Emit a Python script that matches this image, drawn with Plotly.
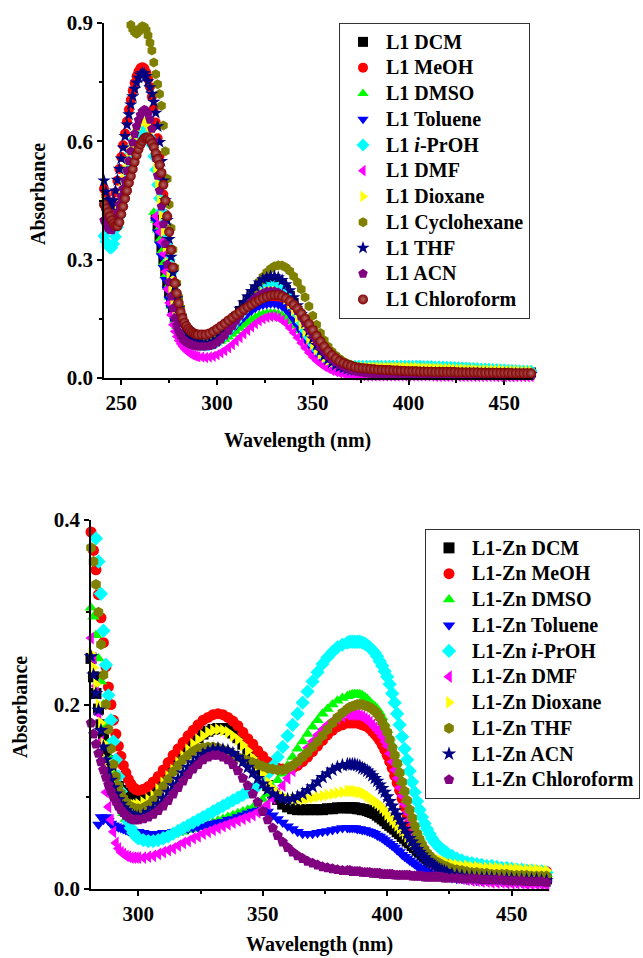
import plotly.graph_objects as go

# ---------------- L1 (free ligand) spectra ----------------
wl_l1 = list(range(241, 291)) + list(range(292, 465, 2))

l1_dcm = [0.41, 0.385, 0.36, 0.33, 0.30, 0.27, 0.24, 0.215, 0.19, 0.17,
          0.152, 0.138, 0.126, 0.116, 0.108, 0.102, 0.097, 0.094, 0.091, 0.089,
          0.088, 0.087, 0.086] + \
         [0.085, 0.085, 0.087, 0.091, 0.097, 0.105, 0.115, 0.127, 0.14, 0.155,
          0.17, 0.185, 0.199, 0.212, 0.223, 0.232, 0.238, 0.242, 0.244, 0.244,
          0.241, 0.234, 0.223, 0.208, 0.19, 0.17, 0.148, 0.127, 0.107, 0.089,
          0.073, 0.06, 0.05, 0.042, 0.036, 0.031, 0.027, 0.025, 0.023, 0.022,
          0.021, 0.021, 0.02, 0.02, 0.02] + \
         [0.02, 0.02, 0.02, 0.02, 0.02, 0.02, 0.02, 0.019, 0.019, 0.019,
          0.019, 0.019, 0.019, 0.018, 0.018, 0.018, 0.018, 0.018, 0.018, 0.017,
          0.017, 0.017, 0.017, 0.017, 0.017, 0.016, 0.016, 0.016, 0.016, 0.016,
          0.016, 0.015, 0.015, 0.015, 0.015, 0.015, 0.015, 0.014, 0.014, 0.014,
          0.014, 0.014]

l1_meoh = [0.48, 0.462, 0.447, 0.436, 0.432, 0.445, 0.47, 0.5, 0.53, 0.56,
           0.59, 0.62, 0.65, 0.68, 0.705, 0.728, 0.748, 0.765, 0.777, 0.785,
           0.788, 0.785, 0.775, 0.758, 0.738, 0.713, 0.683, 0.648, 0.608, 0.563,
           0.515, 0.465, 0.415, 0.365, 0.32, 0.28, 0.245, 0.215, 0.19, 0.168,
           0.15, 0.136, 0.125, 0.116, 0.109, 0.104, 0.1, 0.097, 0.095, 0.093] + \
          [0.09, 0.089, 0.09, 0.093, 0.098, 0.104, 0.112, 0.121, 0.131, 0.142,
           0.153, 0.164, 0.174, 0.183, 0.191, 0.197, 0.201, 0.204, 0.205, 0.205,
           0.202, 0.196, 0.187, 0.175, 0.16, 0.143, 0.125, 0.107, 0.09, 0.075,
           0.062, 0.051, 0.042, 0.035, 0.03, 0.026, 0.023, 0.021, 0.019, 0.018,
           0.017, 0.017, 0.016, 0.016, 0.016] + \
          [0.016, 0.016, 0.016, 0.016, 0.016, 0.016, 0.015, 0.015, 0.015, 0.015,
           0.015, 0.015, 0.014, 0.014, 0.014, 0.014, 0.014, 0.014, 0.014, 0.013,
           0.013, 0.013, 0.013, 0.013, 0.013, 0.013, 0.012, 0.012, 0.012, 0.012,
           0.012, 0.012, 0.012, 0.012, 0.011, 0.011, 0.011, 0.011, 0.011, 0.011,
           0.011, 0.011]

l1_dmso = [0.42, 0.40, 0.375, 0.35, 0.32, 0.29, 0.26, 0.23, 0.205, 0.182,
           0.162, 0.145, 0.131, 0.12, 0.111, 0.104, 0.098, 0.094, 0.091, 0.089,
           0.087, 0.086, 0.085, 0.085] + \
          [0.084, 0.083, 0.084, 0.086, 0.089, 0.093, 0.098, 0.104, 0.111, 0.118,
           0.126, 0.134, 0.141, 0.148, 0.154, 0.159, 0.162, 0.164, 0.165, 0.165,
           0.163, 0.159, 0.152, 0.143, 0.132, 0.12, 0.107, 0.095, 0.083, 0.073,
           0.064, 0.057, 0.051, 0.046, 0.042, 0.039, 0.037, 0.035, 0.034, 0.034,
           0.033, 0.033, 0.033, 0.033, 0.033] + \
          [0.033, 0.033, 0.033, 0.033, 0.033, 0.033, 0.033, 0.033, 0.033, 0.033,
           0.033, 0.033, 0.033, 0.032, 0.032, 0.032, 0.031, 0.031, 0.031, 0.03,
           0.03, 0.03, 0.029, 0.029, 0.028, 0.028, 0.027, 0.027, 0.026, 0.026,
           0.025, 0.025, 0.024, 0.024, 0.023, 0.023, 0.022, 0.022, 0.021, 0.021,
           0.02, 0.02]

l1_toluene = [0.40, 0.37, 0.34, 0.31, 0.28, 0.25, 0.225, 0.2, 0.178, 0.16,
              0.145, 0.132, 0.12, 0.112, 0.105, 0.1, 0.096, 0.093, 0.09, 0.088,
              0.087, 0.086, 0.085] + \
             [0.086, 0.085, 0.086, 0.089, 0.093, 0.099, 0.106, 0.114, 0.123, 0.133,
              0.143, 0.153, 0.162, 0.17, 0.177, 0.182, 0.185, 0.187, 0.188, 0.188,
              0.186, 0.181, 0.173, 0.162, 0.148, 0.133, 0.117, 0.101, 0.086, 0.072,
              0.06, 0.05, 0.042, 0.036, 0.031, 0.027, 0.025, 0.023, 0.022, 0.021,
              0.021, 0.02, 0.02, 0.02, 0.02] + \
             [0.02, 0.02, 0.02, 0.02, 0.02, 0.02, 0.02, 0.019, 0.019, 0.019,
              0.019, 0.019, 0.019, 0.018, 0.018, 0.018, 0.018, 0.018, 0.018, 0.017,
              0.017, 0.017, 0.017, 0.017, 0.017, 0.016, 0.016, 0.016, 0.016, 0.016,
              0.016, 0.015, 0.015, 0.015, 0.015, 0.015, 0.015, 0.014, 0.014, 0.014,
              0.014, 0.014]

l1_iproh = [0.36, 0.346, 0.336, 0.33, 0.33, 0.34, 0.358, 0.382, 0.409, 0.438,
            0.468, 0.497, 0.523, 0.548, 0.57, 0.589, 0.606, 0.619, 0.629, 0.636,
            0.64, 0.64, 0.635, 0.625, 0.61, 0.59, 0.562, 0.528, 0.49, 0.455,
            0.423, 0.395, 0.368, 0.335, 0.3, 0.265, 0.232, 0.203, 0.178, 0.158,
            0.141, 0.128, 0.117, 0.108, 0.101, 0.096, 0.092, 0.089, 0.087, 0.085] + \
           [0.084, 0.083, 0.084, 0.087, 0.092, 0.099, 0.108, 0.119, 0.131, 0.144,
            0.158, 0.172, 0.185, 0.197, 0.208, 0.217, 0.224, 0.229, 0.232, 0.232,
            0.229, 0.222, 0.211, 0.197, 0.18, 0.161, 0.141, 0.121, 0.103, 0.087,
            0.073, 0.062, 0.053, 0.046, 0.041, 0.037, 0.034, 0.032, 0.031, 0.03,
            0.03, 0.03, 0.03, 0.03, 0.03] + \
           [0.03, 0.03, 0.03, 0.03, 0.03, 0.03, 0.03, 0.03, 0.03, 0.03,
            0.03, 0.03, 0.03, 0.029, 0.029, 0.029, 0.028, 0.028, 0.028, 0.027,
            0.027, 0.026, 0.026, 0.025, 0.025, 0.024, 0.024, 0.023, 0.023, 0.022,
            0.022, 0.021, 0.021, 0.02, 0.02, 0.019, 0.019, 0.018, 0.018, 0.017,
            0.017, 0.017]

l1_dmf = [0.41, 0.39, 0.37, 0.345, 0.315, 0.27, 0.225, 0.19, 0.16, 0.135,
          0.118, 0.105, 0.095, 0.087, 0.08, 0.074, 0.069, 0.065, 0.062, 0.059,
          0.057, 0.055, 0.054] + \
         [0.053, 0.052, 0.053, 0.055, 0.059, 0.064, 0.07, 0.077, 0.085, 0.094,
          0.103, 0.112, 0.121, 0.13, 0.138, 0.145, 0.15, 0.154, 0.156, 0.156,
          0.153, 0.147, 0.138, 0.127, 0.115, 0.102, 0.089, 0.076, 0.064, 0.053,
          0.044, 0.036, 0.029, 0.024, 0.019, 0.016, 0.013, 0.011, 0.009, 0.008,
          0.007, 0.006, 0.006, 0.005, 0.005] + \
         [0.005, 0.005, 0.005, 0.005, 0.005, 0.005, 0.005, 0.005, 0.005, 0.005,
          0.005, 0.005, 0.005, 0.005, 0.005, 0.005, 0.004, 0.004, 0.004, 0.004,
          0.004, 0.004, 0.004, 0.004, 0.004, 0.004, 0.004, 0.004, 0.004, 0.004,
          0.004, 0.004, 0.003, 0.003, 0.003, 0.003, 0.003, 0.003, 0.003, 0.003,
          0.003, 0.003]

l1_dioxane = [0.45, 0.432, 0.417, 0.406, 0.4, 0.405, 0.42, 0.44, 0.46, 0.481,
              0.504, 0.527, 0.549, 0.57, 0.589, 0.605, 0.619, 0.631, 0.641, 0.648,
              0.652, 0.652, 0.648, 0.639, 0.624, 0.6, 0.57, 0.532, 0.492, 0.452,
              0.412, 0.372, 0.332, 0.293, 0.257, 0.226, 0.199, 0.176, 0.157, 0.141,
              0.128, 0.118, 0.11, 0.104, 0.099, 0.096, 0.093, 0.091, 0.089, 0.088] + \
             [0.087, 0.086, 0.087, 0.09, 0.095, 0.102, 0.11, 0.12, 0.131, 0.143,
              0.155, 0.167, 0.179, 0.19, 0.2, 0.208, 0.214, 0.218, 0.22, 0.22,
              0.217, 0.21, 0.2, 0.187, 0.171, 0.153, 0.135, 0.117, 0.1, 0.085,
              0.072, 0.061, 0.052, 0.045, 0.04, 0.036, 0.033, 0.031, 0.03, 0.029,
              0.029, 0.028, 0.028, 0.028, 0.028] + \
             [0.028, 0.028, 0.028, 0.028, 0.028, 0.028, 0.028, 0.028, 0.027, 0.027,
              0.027, 0.027, 0.026, 0.026, 0.026, 0.025, 0.025, 0.025, 0.024, 0.024,
              0.024, 0.023, 0.023, 0.023, 0.022, 0.022, 0.022, 0.021, 0.021, 0.021,
              0.02, 0.02, 0.02, 0.02, 0.019, 0.019, 0.019, 0.019, 0.018, 0.018,
              0.018, 0.018]

l1_cyclohexane = [0.895, 0.885, 0.877, 0.873, 0.878, 0.887, 0.892, 0.89, 0.882, 0.868,
                  0.85, 0.83, 0.8, 0.77, 0.745, 0.72, 0.69, 0.64, 0.575, 0.505,
                  0.44, 0.38, 0.325, 0.28, 0.24, 0.205, 0.178, 0.158, 0.142, 0.13,
                  0.12, 0.113, 0.108, 0.104, 0.101, 0.099] + \
                 [0.098, 0.098, 0.099, 0.101, 0.105, 0.11, 0.117, 0.126, 0.137, 0.15,
                  0.165, 0.181, 0.197, 0.213, 0.229, 0.244, 0.257, 0.268, 0.277, 0.283,
                  0.286, 0.285, 0.28, 0.271, 0.258, 0.243, 0.225, 0.205, 0.182, 0.158,
                  0.135, 0.114, 0.096, 0.08, 0.067, 0.057, 0.049, 0.042, 0.037, 0.033,
                  0.03, 0.027, 0.025, 0.023, 0.022] + \
                 [0.021, 0.021, 0.02, 0.02, 0.019, 0.019, 0.018, 0.018, 0.018, 0.018,
                  0.017, 0.017, 0.017, 0.017, 0.016, 0.016, 0.016, 0.016, 0.015, 0.015,
                  0.015, 0.015, 0.015, 0.015, 0.014, 0.014, 0.014, 0.014, 0.014, 0.014,
                  0.013, 0.013, 0.013, 0.013, 0.013, 0.013, 0.012, 0.012, 0.012, 0.012,
                  0.012, 0.012]

l1_thf = [0.50, 0.472, 0.452, 0.44, 0.436, 0.45, 0.475, 0.502, 0.53, 0.556,
          0.584, 0.613, 0.642, 0.668, 0.693, 0.714, 0.733, 0.749, 0.761, 0.769,
          0.773, 0.772, 0.765, 0.752, 0.737, 0.72, 0.7, 0.672, 0.638, 0.598,
          0.55, 0.5, 0.45, 0.4, 0.352, 0.307, 0.267, 0.232, 0.202, 0.177,
          0.157, 0.141, 0.128, 0.118, 0.11, 0.104, 0.099, 0.095, 0.092, 0.09] + \
         [0.088, 0.087, 0.088, 0.092, 0.098, 0.106, 0.117, 0.13, 0.144, 0.159,
          0.175, 0.191, 0.206, 0.22, 0.232, 0.242, 0.25, 0.255, 0.258, 0.258,
          0.255, 0.248, 0.237, 0.222, 0.204, 0.184, 0.162, 0.14, 0.119, 0.1,
          0.083, 0.069, 0.057, 0.047, 0.039, 0.033, 0.028, 0.025, 0.022, 0.02,
          0.019, 0.018, 0.017, 0.017, 0.016] + \
         [0.016, 0.016, 0.016, 0.015, 0.015, 0.015, 0.015, 0.015, 0.014, 0.014,
          0.014, 0.014, 0.014, 0.014, 0.013, 0.013, 0.013, 0.013, 0.013, 0.013,
          0.013, 0.013, 0.012, 0.012, 0.012, 0.012, 0.012, 0.012, 0.012, 0.012,
          0.011, 0.011, 0.011, 0.011, 0.011, 0.011, 0.011, 0.011, 0.01, 0.01,
          0.01, 0.01]

l1_acn = [0.40, 0.39, 0.381, 0.376, 0.375, 0.385, 0.40, 0.42, 0.44, 0.46,
          0.48, 0.5, 0.525, 0.55, 0.575, 0.597, 0.619, 0.638, 0.654, 0.667,
          0.676, 0.68, 0.678, 0.67, 0.655, 0.632, 0.6, 0.558, 0.513, 0.475,
          0.435, 0.39, 0.34, 0.288, 0.243, 0.207, 0.177, 0.152, 0.133, 0.118,
          0.108, 0.1, 0.095, 0.091, 0.088, 0.086, 0.084, 0.082, 0.081, 0.08] + \
         [0.08, 0.08, 0.081, 0.084, 0.09, 0.098, 0.108, 0.12, 0.132, 0.145,
          0.158, 0.17, 0.182, 0.193, 0.202, 0.21, 0.215, 0.219, 0.22, 0.22,
          0.217, 0.211, 0.203, 0.194, 0.183, 0.17, 0.156, 0.14, 0.124, 0.108,
          0.093, 0.079, 0.067, 0.056, 0.047, 0.04, 0.034, 0.029, 0.024, 0.021,
          0.018, 0.016, 0.014, 0.012, 0.011] + \
         [0.01, 0.01, 0.009, 0.009, 0.009, 0.009, 0.008, 0.008, 0.008, 0.008,
          0.008, 0.008, 0.007, 0.007, 0.007, 0.007, 0.007, 0.007, 0.007, 0.007,
          0.007, 0.006, 0.006, 0.006, 0.006, 0.006, 0.006, 0.006, 0.006, 0.006,
          0.006, 0.006, 0.005, 0.005, 0.005, 0.005, 0.005, 0.005, 0.005, 0.005,
          0.005, 0.005]

l1_chloroform = [0.44, 0.43, 0.42, 0.41, 0.40, 0.392, 0.386, 0.385, 0.395, 0.415,
                 0.435, 0.455, 0.475, 0.495, 0.512, 0.53, 0.548, 0.565, 0.58, 0.592,
                 0.6, 0.607, 0.61, 0.61, 0.605, 0.595, 0.585, 0.57, 0.555, 0.54,
                 0.52, 0.49, 0.45, 0.41, 0.37, 0.325, 0.28, 0.24, 0.215, 0.19,
                 0.168, 0.152, 0.14, 0.132, 0.125, 0.12, 0.116, 0.113, 0.111, 0.11] + \
                [0.11, 0.11, 0.113, 0.118, 0.124, 0.131, 0.138, 0.146, 0.153, 0.16,
                 0.167, 0.174, 0.18, 0.186, 0.192, 0.197, 0.202, 0.206, 0.209, 0.21,
                 0.21, 0.207, 0.202, 0.195, 0.186, 0.176, 0.164, 0.151, 0.137, 0.122,
                 0.107, 0.093, 0.08, 0.068, 0.058, 0.05, 0.043, 0.038, 0.034, 0.031,
                 0.028, 0.026, 0.025, 0.024, 0.023] + \
                [0.022, 0.021, 0.021, 0.02, 0.02, 0.019, 0.019, 0.018, 0.018, 0.017,
                 0.017, 0.017, 0.016, 0.016, 0.016, 0.016, 0.015, 0.015, 0.015, 0.015,
                 0.015, 0.015, 0.014, 0.014, 0.014, 0.014, 0.014, 0.014, 0.013, 0.013,
                 0.013, 0.013, 0.013, 0.013, 0.013, 0.013, 0.012, 0.012, 0.012, 0.012,
                 0.012, 0.012]

# ---------------- L1-Zn complex spectra ----------------
# 1 nm steps on the steep edges, 2 nm elsewhere
wl_zn = (list(range(281, 301)) + list(range(302, 385, 2))
         + list(range(385, 425)) + list(range(426, 465, 2)))

zn_dcm = [0.25, 0.23, 0.212, 0.195, 0.178, 0.163, 0.15, 0.139, 0.13, 0.122,
          0.116, 0.111, 0.107, 0.104, 0.102, 0.1, 0.099, 0.099, 0.099, 0.1] + \
         [0.101, 0.104, 0.108, 0.113, 0.119, 0.126, 0.133, 0.14, 0.147, 0.154,
          0.159, 0.164, 0.168, 0.171, 0.173, 0.174, 0.174, 0.173, 0.169, 0.164,
          0.157, 0.148, 0.139, 0.13, 0.121, 0.112, 0.104, 0.097, 0.092, 0.089,
          0.087, 0.086, 0.086, 0.086, 0.086, 0.086, 0.086, 0.087, 0.087, 0.088,
          0.088, 0.088] + \
         [0.088, 0.088, 0.088, 0.087, 0.087, 0.086, 0.086, 0.085, 0.084, 0.083,
          0.082, 0.08, 0.078, 0.076, 0.074, 0.071, 0.069, 0.067, 0.065, 0.062,
          0.06, 0.057, 0.055, 0.052, 0.05, 0.047, 0.045, 0.042, 0.04, 0.037,
          0.035, 0.033, 0.031, 0.029, 0.027, 0.026, 0.024, 0.023, 0.022, 0.021] + \
         [0.019, 0.018, 0.017, 0.016, 0.016, 0.015, 0.015, 0.014, 0.014, 0.013,
          0.013, 0.013, 0.012, 0.012, 0.012, 0.012, 0.011, 0.011, 0.011, 0.011]

zn_meoh = [0.387, 0.367, 0.346, 0.319, 0.294, 0.267, 0.241, 0.219, 0.2, 0.183,
           0.168, 0.155, 0.144, 0.134, 0.126, 0.119, 0.114, 0.11, 0.108, 0.107] + \
          [0.108, 0.111, 0.116, 0.122, 0.129, 0.137, 0.145, 0.152, 0.159, 0.166,
           0.172, 0.178, 0.183, 0.186, 0.189, 0.19, 0.189, 0.186, 0.182, 0.177,
           0.17, 0.163, 0.157, 0.15, 0.144, 0.138, 0.134, 0.131, 0.13, 0.13,
           0.131, 0.134, 0.138, 0.143, 0.149, 0.155, 0.161, 0.167, 0.172, 0.176,
           0.178, 0.18] + \
          [0.18, 0.18, 0.18, 0.18, 0.179, 0.178, 0.177, 0.176, 0.174, 0.171,
           0.168, 0.165, 0.161, 0.156, 0.151, 0.145, 0.138, 0.131, 0.123, 0.115,
           0.107, 0.098, 0.089, 0.08, 0.072, 0.064, 0.058, 0.052, 0.047, 0.043,
           0.039, 0.036, 0.034, 0.032, 0.03, 0.029, 0.029, 0.028, 0.028, 0.027] + \
          [0.026, 0.026, 0.025, 0.025, 0.024, 0.024, 0.023, 0.023, 0.022, 0.022,
           0.021, 0.021, 0.021, 0.02, 0.02, 0.02, 0.019, 0.019, 0.019, 0.019]

zn_dmso = [0.305, 0.295, 0.275, 0.25, 0.225, 0.2, 0.178, 0.158, 0.14, 0.125,
           0.112, 0.1, 0.09, 0.082, 0.076, 0.071, 0.067, 0.064, 0.062, 0.06] + \
          [0.058, 0.057, 0.056, 0.056, 0.057, 0.058, 0.059, 0.061, 0.062, 0.064,
           0.065, 0.067, 0.068, 0.07, 0.072, 0.074, 0.076, 0.078, 0.08, 0.082,
           0.084, 0.086, 0.088, 0.092, 0.097, 0.103, 0.11, 0.118, 0.125, 0.134,
           0.143, 0.152, 0.16, 0.168, 0.176, 0.183, 0.19, 0.195, 0.2, 0.204,
           0.207, 0.209] + \
          [0.21, 0.211, 0.211, 0.211, 0.211, 0.21, 0.208, 0.206, 0.203, 0.2,
           0.198, 0.195, 0.191, 0.186, 0.179, 0.172, 0.164, 0.156, 0.147, 0.137,
           0.127, 0.117, 0.107, 0.097, 0.087, 0.078, 0.07, 0.062, 0.055, 0.049,
           0.044, 0.04, 0.037, 0.034, 0.032, 0.03, 0.029, 0.028, 0.027, 0.026] + \
          [0.025, 0.024, 0.023, 0.022, 0.022, 0.021, 0.021, 0.02, 0.02, 0.019,
           0.019, 0.018, 0.018, 0.018, 0.017, 0.017, 0.017, 0.017, 0.016, 0.016]

zn_toluene = [0.07, 0.078, 0.075, 0.078, 0.074, 0.071, 0.069, 0.068, 0.067, 0.066,
              0.065, 0.064, 0.063, 0.063, 0.062, 0.062, 0.062] + \
             [0.061, 0.06, 0.06, 0.06, 0.061, 0.061, 0.062, 0.063, 0.064, 0.065,
              0.066, 0.067, 0.068, 0.07, 0.071, 0.072, 0.073, 0.075, 0.076, 0.078,
              0.08, 0.082, 0.084, 0.085, 0.086, 0.084, 0.08, 0.076, 0.072, 0.068,
              0.065, 0.062, 0.06, 0.06, 0.06, 0.061, 0.062, 0.063, 0.064, 0.065,
              0.066, 0.066] + \
             [0.066, 0.066, 0.066, 0.065, 0.065, 0.064, 0.064, 0.063, 0.062, 0.061,
              0.06, 0.058, 0.057, 0.055, 0.053, 0.051, 0.049, 0.047, 0.045, 0.042,
              0.04, 0.037, 0.035, 0.033, 0.031, 0.029, 0.027, 0.025, 0.023, 0.022,
              0.02, 0.019, 0.018, 0.017, 0.016, 0.015, 0.015, 0.014, 0.014, 0.013] + \
             [0.012, 0.011, 0.011, 0.01, 0.01, 0.009, 0.009, 0.009, 0.009, 0.008,
              0.008, 0.008, 0.008, 0.007, 0.007, 0.007, 0.007, 0.007, 0.006, 0.006]

zn_iproh = [0.38, 0.355, 0.32, 0.28, 0.243, 0.21, 0.183, 0.16, 0.14, 0.122,
            0.106, 0.093, 0.082, 0.073, 0.066, 0.061, 0.057, 0.055] + \
           [0.053, 0.052, 0.052, 0.053, 0.055, 0.057, 0.06, 0.063, 0.066, 0.069,
            0.072, 0.075, 0.078, 0.081, 0.084, 0.087, 0.09, 0.093, 0.096, 0.099,
            0.102, 0.105, 0.108, 0.112, 0.118, 0.125, 0.133, 0.143, 0.154, 0.166,
            0.178, 0.19, 0.202, 0.214, 0.225, 0.235, 0.244, 0.251, 0.257, 0.262,
            0.265, 0.267] + \
           [0.268, 0.268, 0.268, 0.268, 0.268, 0.267, 0.266, 0.264, 0.262, 0.259,
            0.256, 0.252, 0.247, 0.242, 0.236, 0.23, 0.222, 0.212, 0.202, 0.19,
            0.178, 0.165, 0.152, 0.14, 0.128, 0.116, 0.105, 0.095, 0.086, 0.078,
            0.071, 0.065, 0.06, 0.055, 0.051, 0.048, 0.045, 0.043, 0.041, 0.039] + \
           [0.036, 0.033, 0.031, 0.029, 0.028, 0.027, 0.026, 0.025, 0.025, 0.024,
            0.023, 0.023, 0.022, 0.021, 0.021, 0.02, 0.02, 0.019, 0.019, 0.018]

zn_dmf = [0.272, 0.25, 0.22, 0.19, 0.16, 0.13, 0.105, 0.089, 0.075, 0.062,
          0.05, 0.044, 0.04, 0.038, 0.036, 0.035, 0.034, 0.034, 0.034, 0.034] + \
         [0.034, 0.035, 0.036, 0.038, 0.04, 0.042, 0.044, 0.047, 0.05, 0.052,
          0.055, 0.057, 0.06, 0.062, 0.064, 0.066, 0.068, 0.07, 0.072, 0.074,
          0.076, 0.078, 0.08, 0.083, 0.087, 0.092, 0.098, 0.104, 0.112, 0.12,
          0.128, 0.137, 0.145, 0.153, 0.16, 0.167, 0.173, 0.178, 0.182, 0.185,
          0.187, 0.189] + \
         [0.189, 0.189, 0.189, 0.189, 0.188, 0.187, 0.185, 0.183, 0.181, 0.178,
          0.175, 0.172, 0.169, 0.165, 0.16, 0.155, 0.147, 0.138, 0.129, 0.12,
          0.11, 0.101, 0.092, 0.083, 0.075, 0.067, 0.059, 0.052, 0.046, 0.041,
          0.036, 0.032, 0.029, 0.026, 0.023, 0.021, 0.019, 0.018, 0.016, 0.015] + \
         [0.013, 0.012, 0.011, 0.01, 0.009, 0.009, 0.008, 0.008, 0.007, 0.007,
          0.007, 0.006, 0.006, 0.006, 0.006, 0.005, 0.005, 0.005, 0.005, 0.004]

zn_dioxane = [0.255, 0.24, 0.222, 0.2, 0.18, 0.158, 0.14, 0.128, 0.118, 0.11,
              0.104, 0.1, 0.097, 0.095, 0.093, 0.092, 0.091, 0.091, 0.091, 0.092] + \
             [0.094, 0.097, 0.101, 0.108, 0.115, 0.122, 0.129, 0.137, 0.144, 0.151,
              0.157, 0.162, 0.166, 0.17, 0.172, 0.173, 0.172, 0.17, 0.166, 0.162,
              0.156, 0.15, 0.142, 0.134, 0.125, 0.116, 0.109, 0.104, 0.1, 0.098,
              0.097, 0.097, 0.097, 0.098, 0.099, 0.1, 0.101, 0.102, 0.103, 0.104,
              0.105, 0.106] + \
             [0.106, 0.106, 0.106, 0.105, 0.105, 0.104, 0.103, 0.101, 0.099, 0.097,
              0.095, 0.093, 0.091, 0.088, 0.085, 0.081, 0.078, 0.075, 0.072, 0.069,
              0.066, 0.063, 0.06, 0.057, 0.054, 0.051, 0.048, 0.046, 0.043, 0.041,
              0.039, 0.037, 0.035, 0.034, 0.033, 0.032, 0.031, 0.03, 0.029, 0.028] + \
             [0.027, 0.026, 0.025, 0.025, 0.024, 0.024, 0.023, 0.023, 0.023, 0.023,
              0.022, 0.022, 0.022, 0.022, 0.021, 0.021, 0.021, 0.021, 0.02, 0.02]

zn_thf = [0.37, 0.355, 0.33, 0.3, 0.265, 0.232, 0.2, 0.173, 0.152, 0.135,
          0.122, 0.112, 0.104, 0.098, 0.094, 0.091, 0.089, 0.088, 0.087, 0.087] + \
         [0.088, 0.091, 0.096, 0.103, 0.111, 0.119, 0.127, 0.134, 0.14, 0.145,
          0.149, 0.152, 0.153, 0.154, 0.154, 0.153, 0.151, 0.149, 0.146, 0.143,
          0.141, 0.139, 0.137, 0.135, 0.133, 0.131, 0.13, 0.129, 0.129, 0.131,
          0.134, 0.138, 0.143, 0.148, 0.154, 0.16, 0.166, 0.173, 0.18, 0.186,
          0.191, 0.195] + \
         [0.197, 0.198, 0.199, 0.2, 0.2, 0.2, 0.199, 0.198, 0.197, 0.195,
          0.193, 0.19, 0.186, 0.181, 0.176, 0.17, 0.162, 0.153, 0.145, 0.136,
          0.126, 0.116, 0.106, 0.096, 0.086, 0.077, 0.068, 0.06, 0.054, 0.048,
          0.043, 0.039, 0.036, 0.033, 0.031, 0.029, 0.028, 0.026, 0.025, 0.024] + \
         [0.022, 0.021, 0.02, 0.019, 0.018, 0.018, 0.017, 0.017, 0.016, 0.016,
          0.016, 0.016, 0.015, 0.015, 0.015, 0.015, 0.014, 0.014, 0.014, 0.014]

zn_acn = [0.252, 0.232, 0.212, 0.194, 0.172, 0.154, 0.14, 0.128, 0.118, 0.11,
          0.103, 0.097, 0.092, 0.088, 0.085, 0.082, 0.08, 0.079, 0.078, 0.078] + \
         [0.08, 0.083, 0.087, 0.092, 0.098, 0.105, 0.112, 0.119, 0.126, 0.132,
          0.137, 0.142, 0.146, 0.149, 0.151, 0.152, 0.151, 0.15, 0.147, 0.143,
          0.138, 0.132, 0.126, 0.12, 0.114, 0.108, 0.103, 0.1, 0.098, 0.097,
          0.098, 0.1, 0.103, 0.107, 0.111, 0.116, 0.121, 0.125, 0.129, 0.132,
          0.134, 0.135] + \
         [0.135, 0.135, 0.135, 0.134, 0.133, 0.131, 0.13, 0.128, 0.126, 0.123,
          0.12, 0.117, 0.113, 0.109, 0.105, 0.1, 0.095, 0.09, 0.085, 0.08,
          0.075, 0.07, 0.065, 0.06, 0.055, 0.051, 0.047, 0.043, 0.04, 0.037,
          0.034, 0.031, 0.029, 0.027, 0.025, 0.023, 0.021, 0.02, 0.019, 0.018] + \
         [0.016, 0.015, 0.014, 0.013, 0.013, 0.012, 0.012, 0.012, 0.012, 0.011,
          0.011, 0.011, 0.011, 0.01, 0.01, 0.01, 0.01, 0.01, 0.009, 0.009]

zn_chloroform = [0.18, 0.168, 0.157, 0.147, 0.138, 0.129, 0.121, 0.113, 0.106, 0.1,
                 0.095, 0.09, 0.086, 0.083, 0.08, 0.078, 0.076, 0.075, 0.075, 0.075] + \
                [0.076, 0.078, 0.081, 0.085, 0.09, 0.096, 0.103, 0.11, 0.117, 0.124,
                 0.13, 0.135, 0.14, 0.143, 0.145, 0.145, 0.143, 0.14, 0.135, 0.128,
                 0.12, 0.112, 0.103, 0.094, 0.084, 0.075, 0.066, 0.058, 0.051, 0.045,
                 0.04, 0.036, 0.033, 0.03, 0.028, 0.026, 0.024, 0.023, 0.022, 0.021,
                 0.02, 0.02] + \
                [0.02, 0.019, 0.019, 0.019, 0.019, 0.018, 0.018, 0.018, 0.018, 0.017,
                 0.017, 0.017, 0.017, 0.016, 0.016, 0.016, 0.016, 0.016, 0.015, 0.015,
                 0.015, 0.015, 0.015, 0.015, 0.015, 0.014, 0.014, 0.014, 0.014, 0.014,
                 0.013, 0.013, 0.013, 0.013, 0.013, 0.013, 0.013, 0.013, 0.012, 0.012] + \
                [0.012, 0.012, 0.011, 0.011, 0.011, 0.011, 0.01, 0.01, 0.01, 0.01,
                 0.01, 0.009, 0.009, 0.009, 0.009, 0.008, 0.008, 0.008, 0.008, 0.007]


def on_grid(grid, start, values):
    """Place a spectrum on the shared wavelength grid; no data before `start`."""
    out = [None] * grid.index(start) + list(values)
    assert len(out) == len(grid), (start, len(out), len(grid))
    return out


FONT = "Liberation Serif, Times New Roman, serif"
# dark red ball with a small light centre
MAROON_BALL = dict(type="radial", color="#b56a6a")


def label(text):
    # legend rows are spaced by the (smaller) legend font; the label itself is set larger
    return '<span style="font-size:20px">' + text + "</span>"


l1_series = [
    ("L1 DCM", 268, l1_dcm, "#000000", "square", None),
    ("L1 MeOH", 241, l1_meoh, "#ff0000", "circle", None),
    ("L1 DMSO", 267, l1_dmso, "#00ff00", "triangle-up", None),
    ("L1 Toluene", 268, l1_toluene, "#0000ff", "triangle-down", None),
    ("L1 <i>i</i>-PrOH", 241, l1_iproh, "#00ffff", "diamond", None),
    ("L1 DMF", 268, l1_dmf, "#ff00ff", "triangle-left", None),
    ("L1 Dioxane", 241, l1_dioxane, "#ffff00", "triangle-right", None),
    ("L1 Cyclohexane", 255, l1_cyclohexane, "#808000", "hexagon", None),
    ("L1 THF", 241, l1_thf, "#000080", "star", None),
    ("L1 ACN", 241, l1_acn, "#800080", "pentagon", None),
    ("L1 Chloroform", 241, l1_chloroform, "#800000", "circle", MAROON_BALL),
]

zn_series = [
    ("L1-Zn DCM", 281, zn_dcm, "#000000", "square"),
    ("L1-Zn MeOH", 281, zn_meoh, "#ff0000", "circle"),
    ("L1-Zn DMSO", 281, zn_dmso, "#00ff00", "triangle-up"),
    ("L1-Zn Toluene", 284, zn_toluene, "#0000ff", "triangle-down"),
    ("L1-Zn <i>i</i>-PrOH", 283, zn_iproh, "#00ffff", "diamond"),
    ("L1-Zn DMF", 281, zn_dmf, "#ff00ff", "triangle-left"),
    ("L1-Zn Dioxane", 281, zn_dioxane, "#ffff00", "triangle-right"),
    ("L1-Zn THF", 281, zn_thf, "#808000", "hexagon"),
    ("L1-Zn ACN", 281, zn_acn, "#000080", "star"),
    ("L1-Zn Chloroform", 281, zn_chloroform, "#800080", "pentagon"),
]

fig = go.Figure()

for name, start, vals, color, symbol, grad in l1_series:
    marker = dict(color=color, symbol=symbol, size=10, line=dict(width=0))
    if grad:
        marker["gradient"] = grad
    fig.add_trace(go.Scatter(
        x=wl_l1, y=on_grid(wl_l1, start, vals), mode="markers", name=label(name),
        marker=marker, xaxis="x", yaxis="y", legend="legend", cliponaxis=False,
    ))

for name, start, vals, color, symbol in zn_series:
    fig.add_trace(go.Scatter(
        x=wl_zn, y=on_grid(wl_zn, start, vals), mode="markers", name=label(name),
        marker=dict(color=color, symbol=symbol, size=11, line=dict(width=0)),
        xaxis="x2", yaxis="y2", legend="legend2", cliponaxis=False,
    ))

W, H = 643, 958
tick_font = dict(family=FONT, size=21, color="black", weight="bold")
title_font = dict(family=FONT, size=20, color="black", weight="bold")
legend_font = dict(family=FONT, size=17.5, color="black", weight="bold")


def axis(domain, rng, dtick, minor_dtick, fmt=None, anchor=None):
    a = dict(
        domain=domain, range=rng, dtick=dtick, tick0=0,
        showline=True, linecolor="black", linewidth=1.5,
        ticks="outside", ticklen=5, tickwidth=1.5, tickcolor="black",
        minor=dict(ticks="outside", ticklen=3, tickwidth=1.5, tickcolor="black",
                   dtick=minor_dtick, tick0=0, showgrid=False),
        showgrid=False, zeroline=False, tickfont=tick_font,
        anchor=anchor, mirror=False,
    )
    if fmt:
        a["tickformat"] = fmt
    return a


fig.update_layout(
    width=W, height=H,
    margin=dict(l=0, r=0, t=0, b=0, autoexpand=False),
    paper_bgcolor="white", plot_bgcolor="white",
    xaxis=axis([104 / W, 533 / W], [241, 465], 50, 25, anchor="y"),
    yaxis=axis([1 - 378 / H, 1 - 23 / H], [0, 0.9], 0.3, 0.15, ".1f", anchor="x"),
    xaxis2=axis([91 / W, 549 / W], [281, 465], 50, 25, anchor="y2"),
    yaxis2=axis([1 - 889 / H, 1 - 520 / H], [0, 0.4], 0.2, 0.1, ".1f", anchor="x2"),
    legend=dict(
        x=339 / W, y=1 - 23 / H, xanchor="left", yanchor="top",
        bgcolor="white", bordercolor="#333333", borderwidth=1,
        font=legend_font, itemwidth=36, tracegroupgap=0,
    ),
    legend2=dict(
        x=425 / W, y=1 - 529 / H, xanchor="left", yanchor="top",
        bgcolor="white", bordercolor="#333333", borderwidth=1,
        font=legend_font, itemwidth=36, tracegroupgap=0,
    ),
    annotations=[
        dict(text="Absorbance", x=38 / W, y=1 - 194 / H, xref="paper", yref="paper",
             textangle=-90, showarrow=False, xanchor="center", yanchor="middle",
             font=title_font),
        dict(text="Wavelength (nm)", x=297 / W, y=1 - 440 / H, xref="paper", yref="paper",
             showarrow=False, xanchor="center", yanchor="middle", font=title_font),
        dict(text="Absorbance", x=20 / W, y=1 - 707 / H, xref="paper", yref="paper",
             textangle=-90, showarrow=False, xanchor="center", yanchor="middle",
             font=title_font),
        dict(text="Wavelength (nm)", x=319 / W, y=1 - 944 / H, xref="paper", yref="paper",
             showarrow=False, xanchor="center", yanchor="middle", font=title_font),
    ],
)

fig.write_html("out.html")
